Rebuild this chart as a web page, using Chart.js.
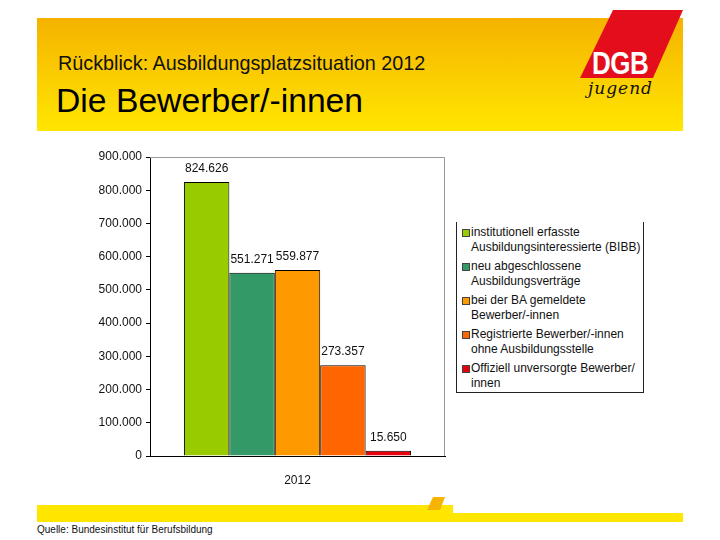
<!DOCTYPE html>
<html lang="de">
<head>
<meta charset="utf-8">
<title>Die Bewerber/-innen</title>
<script src="https://cdn.jsdelivr.net/npm/chart.js@4.4.1/dist/chart.umd.min.js"></script>
<style>
    html, body { margin: 0; padding: 0; background: #fff; }
    body { width: 720px; height: 540px; position: relative; overflow: hidden; font-family: "Liberation Sans", Arial, sans-serif; }
    .header {
        position: absolute; left: 37px; top: 18px; width: 646px; height: 113px;
        background: linear-gradient(to bottom, #f5b200 0%, #fbcf00 55%, #ffe600 100%);
    }
    .subtitle { position: absolute; left: 21px; top: 34px; font-size: 19.8px; color: #111; white-space: nowrap; }
    .title { position: absolute; left: 19px; top: 63px; font-size: 33.7px; color: #000; white-space: nowrap; }
    .logo {
        position: absolute; left: 580px; top: 10px; width: 103px; height: 68px; background: #e30d1c;
        clip-path: polygon(33px 0, 103px 0, 73px 68px, 0 68px);
    }
    .logo span {
        position: absolute; left: 12px; top: 38px; font-size: 26px; font-weight: bold; color: #fff;
        transform: scaleY(1.2); transform-origin: left top; letter-spacing: -0.5px; line-height: 1;
    }
    .jugend { position: absolute; left: 588px; top: 78px; font: italic 17px "DejaVu Serif", serif; color: #111; letter-spacing: 1px; }
    .stripe-left { position: absolute; left: 37px; top: 505px; width: 416px; height: 17px; background: #ffe600; }
    .stripe-right { position: absolute; left: 453px; top: 513px; width: 230px; height: 9px; background: #ffe600; }
    .slash {
        position: absolute; left: 427px; top: 497px; width: 18px; height: 13px; background: #f6b400;
        clip-path: polygon(6px 0, 18px 0, 13px 13px, 0 13px);
    }
    .source { position: absolute; left: 37px; top: 524px; font-size: 10px; color: #111; white-space: nowrap; }
    #chart { position: absolute; left: 0; top: 0; }
    .legend {
        position: absolute; left: 456px; top: 222px; width: 186px; height: 170px;
        border: 1px solid #222; border-top: none; background: #fff; font-size: 12px; color: #111;
    }
    .legend-item { position: absolute; left: 14px; line-height: 14.5px; white-space: nowrap; }
    .legend-item i { position: absolute; left: -9px; top: 4px; width: 6px; height: 6px; border: 1px solid #444; }
</style>
</head>
<body>
<div class="header">
    <div class="subtitle">Rückblick: Ausbildungsplatzsituation 2012</div>
    <div class="title">Die Bewerber/-innen</div>
</div>
<div class="logo"><span>DGB</span></div>
<div class="jugend">jugend</div>
<div class="stripe-left"></div>
<div class="stripe-right"></div>
<div class="slash"></div>
<div class="source">Quelle: Bundesinstitut für Berufsbildung</div>
<canvas id="chart" width="720" height="540"></canvas>
<div class="legend" id="legend"></div>
<script>
const categories = ['2012'];
const seriesLabels = [
    ['institutionell erfasste', 'Ausbildungsinteressierte (BIBB)'],
    ['neu abgeschlossene', 'Ausbildungsverträge'],
    ['bei der BA gemeldete', 'Bewerber/-innen'],
    ['Registrierte Bewerber/-innen', 'ohne Ausbildungsstelle'],
    ['Offiziell unversorgte Bewerber/', 'innen'],
];
const seriesValues = [824626, 551271, 559877, 273357, 15650];
const seriesColors = ['#99cc00', '#339966', '#ff9900', '#ff6600', '#e8000c'];
const yTicks = [0, 100000, 200000, 300000, 400000, 500000, 600000, 700000, 800000, 900000];

const formatDe = (value) => String(value).replace(/\B(?=(\d{3})+(?!\d))/g, '.');

// grey frame on top and right of the plot area
const frame = {
    id: 'frame',
    beforeDatasetsDraw(chart) {
        const { ctx, chartArea: a } = chart;
        ctx.save();
        ctx.strokeStyle = '#999';
        ctx.lineWidth = 1;
        ctx.beginPath();
        ctx.moveTo(a.left, a.top + 0.5);
        ctx.lineTo(a.right - 0.5, a.top + 0.5);
        ctx.lineTo(a.right - 0.5, a.bottom);
        ctx.stroke();
        ctx.restore();
    },
};

const valueLabels = {
    id: 'valueLabels',
    afterDatasetsDraw(chart) {
        const { ctx } = chart;
        ctx.save();
        ctx.font = '12px "Liberation Sans", Arial, sans-serif';
        ctx.fillStyle = '#111';
        ctx.textAlign = 'center';
        ctx.textBaseline = 'bottom';
        chart.data.datasets.forEach((dataset, i) => {
            chart.getDatasetMeta(i).data.forEach((bar, j) => {
                ctx.fillText(formatDe(dataset.data[j]), bar.x, bar.y - 7);
            });
        });
        ctx.restore();
    },
};

const datasets = seriesValues.map((value, i) => ({
    label: seriesLabels[i].join(' '),
    data: [value],
    backgroundColor: seriesColors[i],
    borderColor: '#000',
    borderWidth: 1,
    categoryPercentage: 0.77,
    barPercentage: 1.0,
}));

new Chart(document.getElementById('chart'), {
    type: 'bar',
    data: { labels: categories, datasets },
    options: {
        responsive: false,
        animation: false,
        layout: { padding: { left: 80, top: 157, right: 275, bottom: 54 } },
        plugins: { legend: { display: false }, tooltip: { enabled: false } },
        scales: {
            x: {
                grid: { display: false },
                border: { display: true, color: '#000', width: 1 },
                ticks: { color: '#111', padding: 9, font: { size: 12, family: '"Liberation Sans", Arial, sans-serif' } },
                afterFit: (scale) => { scale.height = 30; },
            },
            y: {
                min: 0,
                max: 900000,
                afterBuildTicks: (scale) => { scale.ticks = yTicks.map((v) => ({ value: v })); },
                grid: { drawOnChartArea: false, drawTicks: true, tickLength: 4, color: '#000' },
                border: { display: true, color: '#000', width: 1 },
                ticks: {
                    color: '#111',
                    padding: 4,
                    font: { size: 12, family: '"Liberation Sans", Arial, sans-serif' },
                    callback: (value) => formatDe(value),
                },
                afterFit: (scale) => { scale.width = 70; },
            },
        },
    },
    plugins: [frame, valueLabels],
});

const legendBox = document.getElementById('legend');
seriesLabels.forEach((lines, i) => {
    const item = document.createElement('div');
    item.className = 'legend-item';
    item.style.top = (3 + i * 34) + 'px';
    item.innerHTML = `<i style="background:${seriesColors[i]}"></i>${lines.join('<br>')}`;
    legendBox.appendChild(item);
});
</script>
</body>
</html>
